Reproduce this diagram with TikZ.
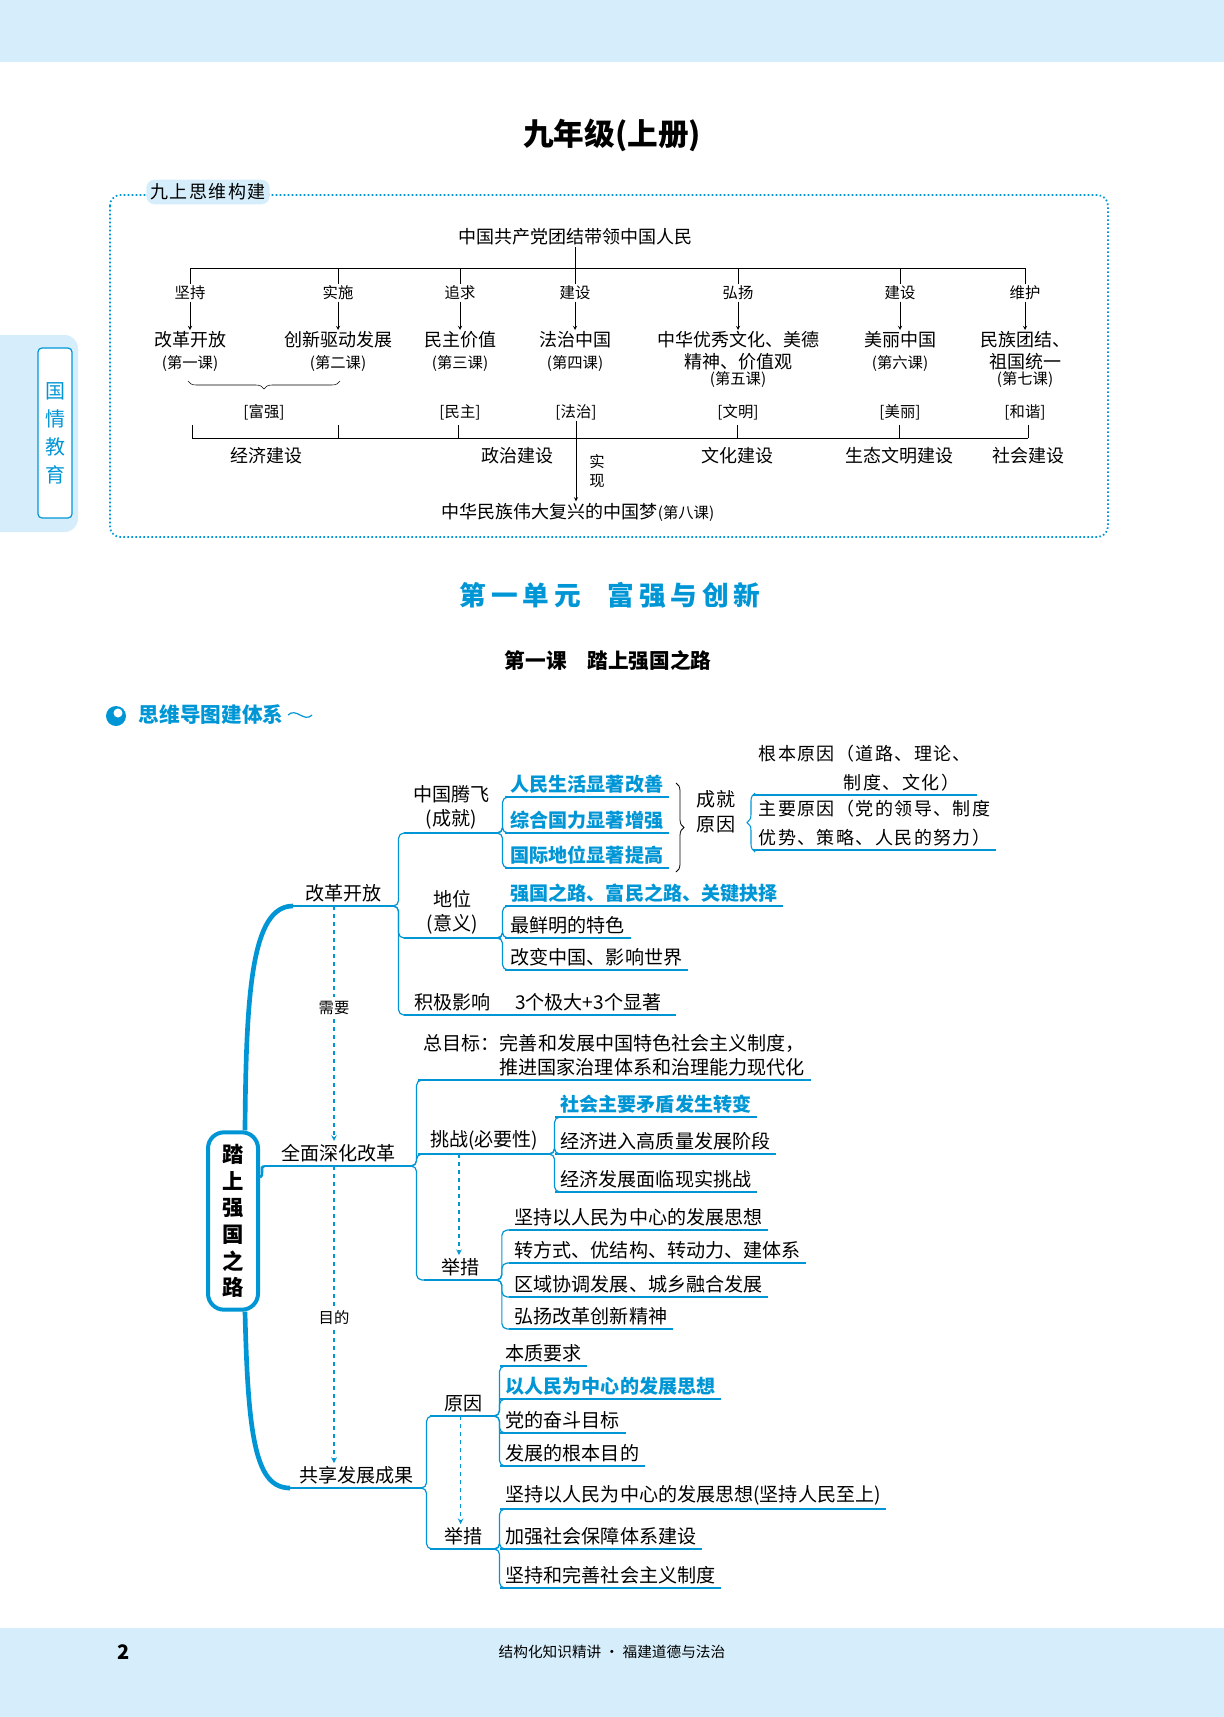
\documentclass[tikz,border=0pt]{standalone}
\usepackage{fontspec}
\setmainfont{Noto Sans CJK SC}
\newfontfamily\wide[LetterSpace=18]{Noto Sans CJK SC}
\newfontfamily\spaced[LetterSpace=8]{Noto Sans CJK SC}
\usetikzlibrary{calc,decorations.pathreplacing}
\definecolor{cblue}{RGB}{0,150,214}
\definecolor{bandblue}{RGB}{214,238,251}
\newcommand\mmfont{\fontsize{14.3}{18.5}\selectfont}
\newcommand\topfont{\fontsize{13.5}{16}\selectfont}
\newcommand\subfont{\fontsize{11.5}{14}\selectfont}

\begin{document}
\begin{tikzpicture}[x=0.75pt,y=-0.75pt,
  cline/.style={draw=cblue,line width=0.9pt},
  fan/.style={cline,rounded corners=4pt},
  dline/.style={draw=cblue,line width=0.9pt,dashed,-stealth},
  item/.style={anchor=south west,inner xsep=4pt,inner ysep=2.5pt,font=\mmfont,
    append after command={(\tikzlastnode.south west) edge[cline] (\tikzlastnode.south east)}},
  hl/.style={text=cblue,font=\mmfont\bfseries},
  subnode/.style={item,align=center,minimum width=#1},
  verb/.style={font=\subfont,inner sep=1pt},
  lesson/.style={font=\topfont,align=center,anchor=north,inner sep=1pt},
  brk/.style={font=\subfont,inner sep=1pt},
  field/.style={font=\topfont,inner sep=1pt},
  brace/.style={decorate,decoration={brace,amplitude=6pt},draw=cblue,line width=0.9pt}]
\useasboundingbox (0,0) rectangle (1224,1717);

% bands and tab
\fill[bandblue] (0,0) rectangle (1224,62);
\fill[bandblue] (0,1628) rectangle (1224,1717);
\fill[bandblue,rounded corners=10pt] (-20,335) rectangle (78,532);
\draw[cblue,fill=white,rounded corners=3pt,line width=0.9pt] (38,348) rectangle (72,518);
\node[text=cblue,font=\fontsize{15}{21}\selectfont,align=center] (tab) at (55,433) {国\\情\\教\\育};

\node[font=\fontsize{23}{26}\selectfont\bfseries] (title) at (612,135) {九年级(上册)};

% overview box
\draw[cblue,dash pattern=on 1.2pt off 1.8pt,line width=1.3pt,rounded corners=8pt] (110,195) rectangle (1108,537);
\node[fill=bandblue,rounded corners=6pt,font=\fontsize{13.5}{15}\selectfont\spaced,inner sep=3pt] (frame) at (208,192) {九上思维构建};

\node[field] (lead) at (575,237) {中国共产党团结带领中国人民};
\draw (lead.south) -- (575,268);
\draw (190,268) -- (1025,268);
\node[lesson] (na) at (190,330) {改革开放\\{\subfont(第一课)}};
\node[lesson] (nb) at (338,330) {创新驱动发展\\{\subfont(第二课)}};
\node[lesson] (nc) at (460,330) {民主价值\\{\subfont(第三课)}};
\node[lesson] (nd) at (575,330) {法治中国\\{\subfont(第四课)}};
\node[lesson] (ne) at (738,330) {中华优秀文化、美德\\精神、价值观\\[-4pt]{\subfont(第五课)}};
\node[lesson] (nf) at (900,330) {美丽中国\\{\subfont(第六课)}};
\node[lesson] (ng) at (1025,330) {民族团结、\\祖国统一\\[-4pt]{\subfont(第七课)}};
\foreach \x/\v/\n in {190/坚持/a,338/实施/b,460/追求/c,575/建设/d,738/弘扬/e,900/建设/f,1025/维护/g}{
  \node[verb] (v\n) at (\x,293) {\v};
  \draw (\x,268) -- (v\n.north);
  \draw[-stealth] (v\n.south) -- (n\n.north);
}
\draw[decorate,decoration={brace,mirror,amplitude=6pt}] (188,381) -- (340,381);
\node[brk] (fq) at (264,412) {[富强]};
\node[brk] (mz) at (460,412) {[民主]};
\node[brk] (fz) at (576,412) {[法治]};
\node[brk] (wm) at (738,412) {[文明]};
\node[brk] (ml) at (900,412) {[美丽]};
\node[brk] (hx) at (1025,412) {[和谐]};
\draw (192,438) -- (1028,438);
\foreach \x in {192,338,458,737,899,1028} \draw (\x,425) -- (\x,438);
\node[field] (jjjs) at (266,456) {经济建设};
\node[field] (zzjs) at (517,456) {政治建设};
\node[field] (whjs) at (737,456) {文化建设};
\node[field] (stjs) at (899,456) {生态文明建设};
\node[field] (shjs) at (1028,456) {社会建设};
\node[font=\subfont,align=center,inner sep=1pt] (sx) at (597,471) {实\\现};
\node[field] (dream) at (578,512) {中华民族伟大复兴的中国梦{\subfont(第八课)}};
\draw[-stealth] (fz.south) -- (fz.south |- dream.north);

% unit headings
\node[text=cblue,font=\fontsize{20}{24}\selectfont\bfseries\wide] (unit) at (610,595) {第一单元\quad 富强与创新};
\node[font=\fontsize{15.5}{18}\selectfont\bfseries] (lessonone) at (608,661) {第一课\quad 踏上强国之路};
\fill[cblue] (116,716) circle (10);
\fill[white] (118,713) circle (4.5);
\node[anchor=west,text=cblue,font=\fontsize{15.5}{18}\selectfont\bfseries] (mmhead) at (134,715) {思维导图建体系};
\draw[cblue,line width=0.9pt] (mmhead.east) .. controls +(8,-8) and +(-8,8) .. ++(24,0);

% mind map
\node[draw=cblue,line width=3pt,rounded corners=12pt,minimum width=37.5pt,minimum height=133pt,
  align=center,font=\fontsize{16}{20}\selectfont\bfseries] (root) at (233,1221) {踏\\上\\强\\国\\之\\路};
\node[subnode=75pt] (gg) at (293,906) {改革开放};
\node[subnode=111pt] (qm) at (264,1166) {全面深化改革};
\node[subnode=99pt] (gx) at (290,1488) {共享发展成果};
\draw[cblue,line width=3.5pt] ([xshift=9pt]root.north) .. controls (246,990) and (252,906) .. (gg.south west);
\draw[cblue,line width=3.5pt] ([xshift=9pt]root.south) .. controls (248,1440) and (256,1488) .. (gx.south west);
\draw[cblue,line width=2pt] ($(root.north east)!0.26!(root.south east)$) to[out=15,in=180] (qm.south west);
\node[font=\subfont] (need) at (334,1008) {需要};
\draw[dline,-] (gg.south -| need) -- (need.north);
\draw[dline] (need.south) -- (qm.north -| need);
\node[font=\subfont] (aim) at (334,1318) {目的};
\draw[dline,-] (qm.south -| aim) -- (aim.north);
\draw[dline] (aim.south) -- (gx.north -| aim);

% reform and opening up
\node[subnode=70.5pt] (zt) at (404,833) {中国腾飞\\(成就)};
\node[subnode=72pt] (dw) at (404,938) {地位\\(意义)};
\node[subnode=72pt] (jj) at (404,1015) {积极影响};
\node[subnode=131pt,anchor=south west] (yx) at (jj.south east) {3个极大+3个显著};
\foreach \c in {zt,dw,jj} \draw[fan] (gg.south east) -- ++(5,0) |- (\c.south west);
\node[item,hl] (a1) at (505,797) {人民生活显著改善};
\node[item,hl] (a2) at (505,833) {综合国力显著增强};
\node[item,hl] (a3) at (505,868) {国际地位显著提高};
\foreach \c in {a1,a2,a3} \draw[fan] (zt.south east) -- ++(4,0) |- (\c.south west);
\draw[brace,draw=black,line width=0.6pt] (676,783) -- (676,872);
\node[font=\mmfont,align=center] (cy) at (716,812) {成就\\原因};
\draw[brace,line width=0.8pt] (755,852) -- (755,793);
\node[item,align=left,font=\fontsize{13.5}{22}\selectfont\spaced] (gb) at (753,795) {根本原因（道路、理论、\\\hspace*{64pt}制度、文化）};
\node[item,align=left,font=\fontsize{13.5}{22}\selectfont\spaced] (zy) at (753,850) {主要原因（党的领导、制度\\优势、策略、人民的努力）};
\node[item,hl] (b1) at (505,906) {强国之路、富民之路、关键抉择};
\node[item] (b2) at (505,938) {最鲜明的特色};
\node[item] (b3) at (505,970) {改变中国、影响世界};
\foreach \c in {b1,b2,b3} \draw[fan] (dw.south east) -- ++(2,0) |- (\c.south west);

% deepening reform
\node[item,align=left,minimum width=279pt] (zm) at (418,1080) {总目标：完善和发展中国特色社会主义制度，\\\hspace*{57pt}推进国家治理体系和治理能力现代化};
\node[subnode=99pt] (tz) at (418,1154) {挑战(必要性)};
\node[subnode=55pt] (js1) at (424,1280) {举措};
\foreach \c in {zm,tz,js1} \draw[fan] (qm.south east) -- ++(4,0) |- (\c.south west);
\node[item,hl] (c1) at (555,1117) {社会主要矛盾发生转变};
\node[item] (c2) at (555,1154) {经济进入高质量发展阶段};
\node[item] (c3) at (555,1192) {经济发展面临现实挑战};
\foreach \c in {c1,c2,c3} \draw[fan] (tz.south east) -- ++(4,0) |- (\c.south west);
\draw[dline] ([xshift=30.75pt]tz.south west) -- ([xshift=30.75pt]tz.south west |- js1.north);
\node[item] (d1) at (509,1230) {坚持以人民为中心的发展思想};
\node[item] (d2) at (509,1263) {转方式、优结构、转动力、建体系};
\node[item] (d3) at (509,1297) {区域协调发展、城乡融合发展};
\node[item] (d4) at (509,1329) {弘扬改革创新精神};
\foreach \c in {d1,d2,d3,d4} \draw[fan] (js1.south east) -- ++(4,0) |- (\c.south west);

% sharing the fruits
\node[subnode=49.5pt] (yy) at (430,1416) {原因};
\node[subnode=49.5pt] (js2) at (430,1549) {举措};
\foreach \c in {yy,js2} \draw[fan] (gx.south east) -- ++(4,0) |- (\c.south west);
\node[item] (e1) at (500,1366) {本质要求};
\node[item,hl] (e2) at (500,1399) {以人民为中心的发展思想};
\node[item] (e3) at (500,1433) {党的奋斗目标};
\node[item] (e4) at (500,1466) {发展的根本目的};
\foreach \c in {e1,e2,e3,e4} \draw[fan] (yy.south east) -- ++(3,0) |- (\c.south west);
\draw[dline] ([xshift=23pt]yy.south west) -- ([xshift=23pt]yy.south west |- js2.north);
\node[item] (f1) at (500,1509) {坚持以人民为中心的发展思想(坚持人民至上)};
\node[item] (f2) at (500,1549) {加强社会保障体系建设};
\node[item] (f3) at (500,1588) {坚持和完善社会主义制度};
\foreach \c in {f1,f2,f3} \draw[fan] (js2.south east) -- ++(3,0) |- (\c.south west);

% footer
\node[font=\fontsize{15}{18}\selectfont\bfseries] (page) at (124,1652) {2};
\node[font=\fontsize{11}{13}\selectfont] (foot) at (612,1652) {结构化知识精讲 · 福建道德与法治};
\end{tikzpicture}
\end{document}
